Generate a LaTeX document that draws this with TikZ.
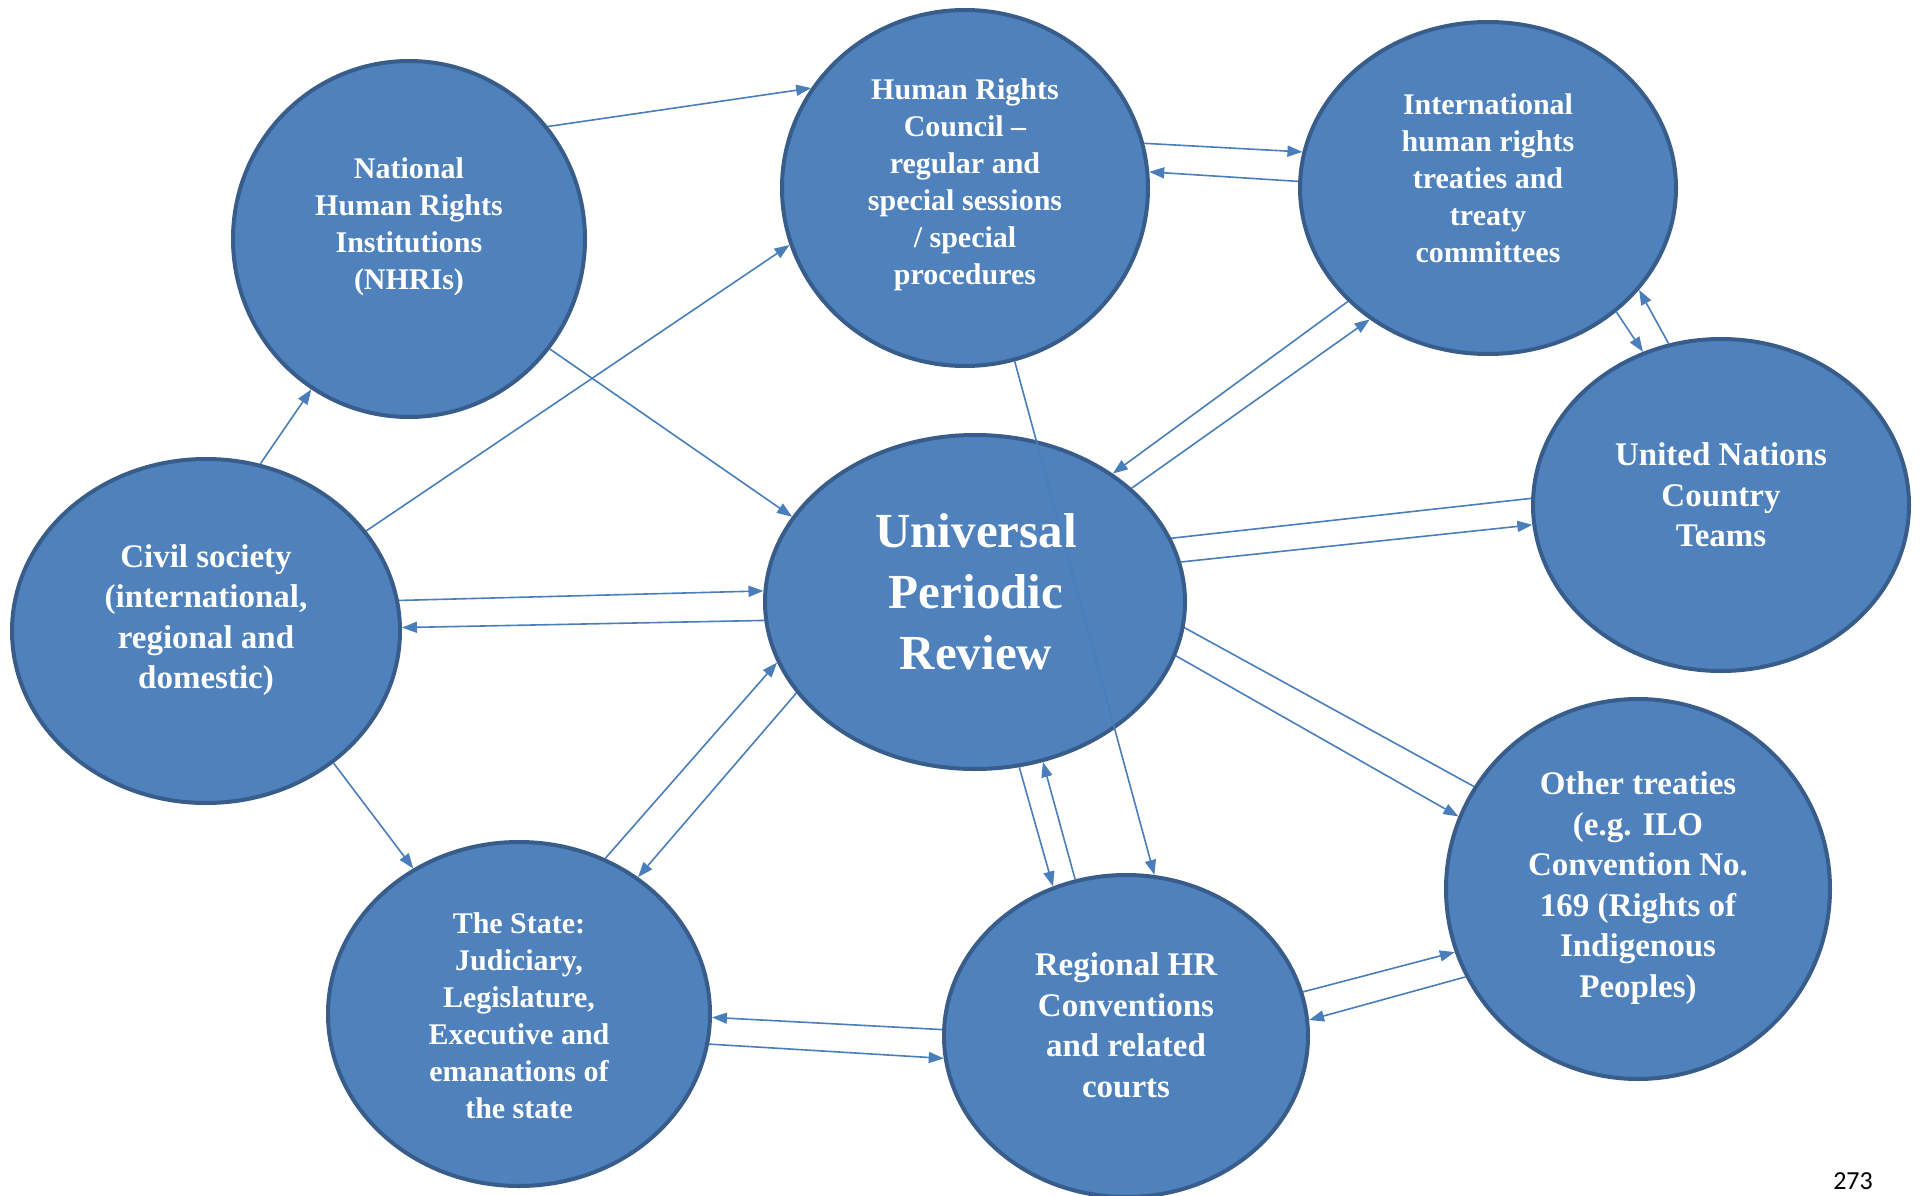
\documentclass[tikz,border=0pt]{standalone}
\usepackage{fontspec}
\usepackage{tikz}
\usetikzlibrary{shapes.geometric,arrows.meta,positioning}
\newfontfamily\pagenumfont{Carlito}
\newfontfamily\ovalfont{Liberation Serif}
\definecolor{ovalblue}{HTML}{4F81BD}
\definecolor{ovalrim}{HTML}{385D8A}
\definecolor{linkblue}{HTML}{4A7EBB}
\pgfdeclarelayer{behind}
\pgfsetlayers{behind,main}
\tikzset{
ovalnode/.style = {ellipse, fill=ovalblue, draw=ovalrim, line width=4pt, inner sep=0pt},
ovaltext/.style = {text=white, font=\ovalfont\bfseries\fontsize{30}{37}\selectfont, align=center, inner sep=0pt},
ovaltextmid/.style = {ovaltext, font=\ovalfont\bfseries\fontsize{33}{40.5}\selectfont},
ovaltextbig/.style = {ovaltext, font=\ovalfont\bfseries\fontsize{49}{61}\selectfont},
link/.style = {draw=linkblue, line width=1.6pt, -{Triangle[length=15pt,width=11pt]}}
}

\begin{document}
\begin{tikzpicture}[x=1pt,y=-1pt]
    \useasboundingbox (0,0) rectangle (1925,1196);
    % the ovals
    \node [ovalnode, minimum width=352pt, minimum height=356pt] (nhri) at (409,239) {};
    \node [ovalnode, minimum width=366pt, minimum height=356pt] (hrc) at (965,188) {};
    \node [ovalnode, minimum width=376pt, minimum height=332pt] (itc) at (1488,188) {};
    \node [ovalnode, minimum width=376pt, minimum height=332pt] (unct) at (1721,505) {};
    \node [ovalnode, minimum width=388pt, minimum height=344pt] (civ) at (206,631) {};
    \node [ovalnode, minimum width=420pt, minimum height=334pt] (upr) at (975,602) {};
    \node [ovalnode, minimum width=384pt, minimum height=380pt] (oth) at (1638,889) {};
    \node [ovalnode, minimum width=382pt, minimum height=344pt] (sta) at (519,1014) {};
    \node [ovalnode, minimum width=364pt, minimum height=322pt] (reg) at (1126,1036) {};

    % texts
    \node [ovaltext] (nhri-t) at (409,227) {National\\Human Rights\\Institutions\\(NHRIs)};
    \node [ovaltext] (hrc-t) at (965,185) {Human Rights\\Council –\\regular and\\special sessions\\/ special\\procedures};
    \node [ovaltext] (itc-t) at (1488,178) {International\\human rights\\treaties and\\treaty\\committees};
    \node [ovaltextmid] (unct-t) at (1721,495) {United Nations\\Country\\Teams};
    \node [ovaltextmid] (civ-t) at (206,620) {Civil society\\(international,\\regional and\\domestic)};
    \node [ovaltextbig] (upr-t) at (976,592) {Universal\\Periodic\\Review};
    \node [ovaltextmid] (oth-t) at (1638,888) {Other treaties\\(e.g. ILO\\Convention No.\\169 (Rights of\\Indigenous\\Peoples)};
    \node [ovaltext] (sta-t) at (519,1016) {The State:\\Judiciary,\\Legislature,\\Executive and\\emanations of\\the state};
    \node [ovaltextmid] (reg-t) at (1126,1025) {Regional HR\\Conventions\\and related\\courts};

    % links
    \draw [link] (nhri.39) -- (hrc.147);
    \draw [link] (civ.72) -- (nhri.237);
    \draw [link] (civ.32) -- (hrc.198);
    \draw [link] (nhri.322) -- (upr.155);
    \draw [link] (hrc.14) -- (itc.169);
    \draw [link] (itc.178) -- (hrc.5);
    \draw [link] (itc.219) -- (upr.43);
    \draw [link] (upr.36) -- (itc.228);
    \draw [link] (itc.316) -- (unct.117);
    \draw [link] (unct.108) -- (itc.326);
    \draw [link] (upr.11) -- (unct.186);
    \draw [link] (civ.9) -- (upr.177);
    \draw [link] (upr.185) -- (civ.1);
    \draw [link] (civ.314) -- (sta.126);
    \draw [link] (sta.61) -- (upr.197);
    \draw [link] (upr.207) -- (sta.49);
    \draw [link] (upr.285) -- (reg.116);
    \draw [link] (reg.108) -- (upr.293);
    \draw [link] (hrc.286) -- (reg.80);
    \draw [link] (upr.345) -- (oth.158);
    \draw [link] (reg.14) -- (oth.199);
    \draw [link] (oth.207) -- (reg.5);
    \draw [link] (reg.178) -- (sta.359);
    \draw [link] (sta.351) -- (reg.187);
    \begin{pgfonlayer}{behind}
    \draw [link, shorten >=-18pt] (unct.178) -- (upr.18);
    \draw [link, shorten >=-57pt] (oth.148) -- (upr.353);
    \end{pgfonlayer}

    \node [font=\pagenumfont\fontsize{26}{30}\selectfont, anchor=base] (pagenum) at (1853,1189) {273};
\end{tikzpicture}
\end{document}
